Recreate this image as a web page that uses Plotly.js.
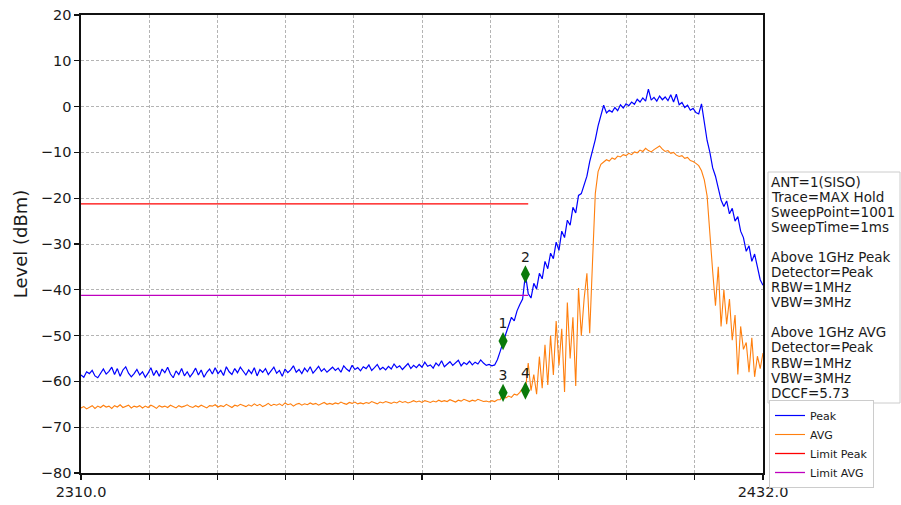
<!DOCTYPE html>
<html>
<head>
<meta charset="utf-8">
<script src="https://cdn.plot.ly/plotly-3.0.1.min.js"></script>
<style>
  html, body { margin: 0; padding: 0; background: #ffffff; }
  #chart { width: 901px; height: 505px; }
</style>
</head>
<body>
<div id="chart"></div>
<script>
// ---------------- DATA ----------------
const freqStart = 2310.0;   // MHz
const freqStop = 2432.0;    // MHz
const freqStep = 0.5;       // MHz between plotted sweep points

// Peak detector trace (dBm), one value per freqStep from 2310 to 2432 MHz
const peakLevel = [
  -58.6,-59.1,-57.9,-58.3,-57.6,-58.8,-59.2,-58.1,-57.3,-58.4,
  -57.8,-56.9,-58.5,-57.2,-58.9,-57.5,-56.8,-58.2,-59.0,-58.3,
  -57.4,-58.6,-57.9,-59.1,-58.2,-57.0,-58.7,-57.6,-58.9,-57.3,
  -58.1,-56.9,-58.4,-59.2,-57.7,-58.5,-57.2,-58.8,-57.9,-59.0,
  -58.2,-57.1,-58.6,-57.5,-59.1,-58.0,-57.3,-58.4,-57.0,-58.3,
  -57.6,-58.7,-56.8,-57.9,-58.5,-57.2,-58.1,-56.9,-57.8,-58.6,
  -57.5,-58.3,-57.0,-58.8,-57.4,-58.0,-57.2,-58.5,-57.7,-56.9,
  -58.2,-57.6,-58.9,-57.3,-58.1,-57.5,-56.6,-58.0,-57.4,-58.3,
  -57.1,-57.9,-56.8,-58.2,-57.5,-56.7,-57.8,-57.2,-58.0,-57.4,
  -56.9,-57.6,-57.1,-58.0,-56.6,-57.3,-57.8,-56.5,-57.4,-57.0,
  -57.7,-56.8,-57.2,-56.4,-57.6,-57.0,-56.3,-57.4,-56.9,-57.5,
  -56.7,-57.3,-56.2,-57.0,-56.6,-57.4,-56.8,-56.1,-57.2,-56.5,
  -57.0,-56.3,-56.9,-55.8,-56.7,-56.4,-57.1,-56.0,-56.6,-55.5,
  -56.8,-56.2,-55.7,-56.5,-56.0,-55.4,-56.6,-55.9,-56.3,-55.6,
  -56.4,-55.8,-56.2,-55.3,-56.0,-56.5,-56.3,-56.6,-56.4,-55.2,
  -53.4,-51.2,-49.6,-47.8,-46.0,-46.8,-44.6,-43.2,-42.0,-36.6,
  -40.8,-41.8,-38.6,-39.8,-36.4,-37.6,-33.8,-35.4,-32.0,-33.2,
  -29.6,-31.4,-27.2,-28.6,-24.8,-25.9,-22.0,-23.2,-19.4,-19.0,
  -16.8,-15.2,-12.0,-9.8,-7.2,-4.2,-2.2,0.3,-1.4,-0.8,
  -1.2,-0.2,-0.9,0.4,-0.3,0.6,0.2,1.0,0.5,1.6,
  1.0,1.9,1.2,3.8,1.4,2.0,1.2,2.3,1.5,2.1,
  1.3,2.6,1.0,2.7,0.4,0.9,-0.2,0.3,-0.8,-0.4,
  -1.3,-1.6,0.6,-3.6,-7.4,-10.0,-13.4,-15.2,-18.0,-20.4,
  -21.8,-20.6,-23.4,-22.2,-25.0,-24.0,-27.2,-28.6,-31.6,-30.4,
  -33.8,-32.2,-35.0,-37.8,-39.0
];

// AVG trace (dBm), same frequency grid
const avgLevel = [
  -65.8,-65.5,-66.0,-65.6,-65.3,-65.9,-65.4,-65.7,-65.2,-65.6,
  -65.4,-65.9,-65.3,-65.6,-65.1,-65.7,-65.5,-65.2,-65.8,-65.4,
  -65.6,-65.3,-65.8,-65.4,-65.7,-65.2,-65.5,-65.9,-65.3,-65.6,
  -65.4,-65.7,-65.2,-65.5,-65.8,-65.3,-65.6,-65.4,-65.1,-65.5,
  -65.7,-65.3,-65.6,-65.2,-65.5,-65.8,-65.3,-65.4,-65.1,-65.6,
  -65.3,-65.5,-65.0,-65.4,-65.7,-65.2,-65.4,-65.0,-65.3,-65.5,
  -65.1,-65.4,-64.9,-65.3,-65.0,-65.5,-65.2,-64.8,-65.3,-65.0,
  -65.2,-64.9,-65.3,-64.7,-65.1,-64.9,-65.4,-65.0,-64.8,-65.2,
  -64.9,-65.1,-64.7,-65.0,-64.8,-65.2,-64.9,-64.6,-65.0,-64.8,
  -65.0,-64.7,-64.9,-64.5,-64.8,-65.0,-64.6,-64.8,-64.5,-64.9,
  -64.7,-64.9,-64.6,-64.8,-64.4,-64.7,-64.9,-64.5,-64.7,-64.4,
  -64.6,-64.8,-64.5,-64.7,-64.3,-64.6,-64.4,-64.7,-64.5,-64.2,
  -64.5,-64.3,-64.6,-64.2,-64.4,-64.6,-64.3,-64.5,-64.1,-64.4,
  -64.2,-64.4,-64.0,-64.3,-64.5,-64.1,-64.3,-63.9,-64.2,-64.4,
  -64.1,-64.3,-63.9,-64.2,-64.4,-64.3,-64.5,-64.2,-64.4,-64.0,
  -64.0,-62.5,-63.6,-63.2,-63.5,-62.8,-63.0,-62.4,-61.5,-62.0,
  -56.0,-62.0,-58.5,-62.8,-54.6,-61.5,-52.0,-60.8,-50.0,-58.6,
  -46.8,-56.5,-48.5,-62.3,-42.8,-55.0,-46.0,-61.0,-39.6,-50.0,
  -42.0,-36.4,-49.5,-34.0,-19.0,-14.2,-12.6,-12.1,-11.6,-11.9,
  -11.2,-11.5,-10.8,-11.0,-10.5,-10.7,-10.2,-10.5,-9.9,-10.1,
  -9.5,-9.8,-9.1,-9.6,-9.9,-9.4,-9.0,-8.6,-9.3,-9.8,
  -9.6,-10.2,-10.0,-10.6,-10.9,-10.7,-11.3,-11.1,-11.8,-12.0,
  -12.4,-12.9,-14.0,-16.0,-19.5,-28.5,-36.0,-43.5,-35.0,-48.0,
  -40.0,-47.5,-42.0,-51.0,-45.5,-58.5,-48.0,-53.0,-51.5,-58.0,
  -50.5,-59.0,-54.5,-57.2,-53.8
];

// Limit lines
const limitFreq = [2310.0, 2390.0];
const limitPeakLevel = [-21.23, -21.23];
const limitAvgLevel = [-41.23, -41.23];

// Markers
const markerFreq = [2385.5, 2389.5, 2385.5, 2389.5];
const markerLevel = [-51.2, -36.6, -62.5, -62.0];
const markerLabel = ['1', '2', '3', '4'];

// Axis ticks
const xTickVals = [2310.0, 2322.2, 2334.4, 2346.6, 2358.8, 2371.0, 2383.2, 2395.4, 2407.6, 2419.8, 2432.0];
const xTickText = ['2310.0', '', '', '', '', '', '', '', '', '', '2432.0'];
const yRange = [-80, 20];

// Info box text lines
const infoLines = [
  'ANT=1(SISO)', 'Trace=MAX Hold', 'SweepPoint=1001', 'SweepTime=1ms', '',
  'Above 1GHz Peak', 'Detector=Peak', 'RBW=1MHz', 'VBW=3MHz', '',
  'Above 1GHz AVG', 'Detector=Peak', 'RBW=1MHz', 'VBW=3MHz', 'DCCF=5.73'
];

// ---------------- LAYOUT ----------------
const FONT = 'DejaVu Sans, Liberation Sans, sans-serif';
const M = {l: 81, r: 138, t: 15, b: 32};
const PW = 901 - M.l - M.r, PH = 505 - M.t - M.b;
const px2x = px => (px - M.l) / PW;
const py2y = py => (505 - M.b - py) / PH;

const traces = [
  {
    name: 'Peak', type: 'scatter', mode: 'lines',
    x0: freqStart, dx: freqStep, y: peakLevel,
    line: {color: '#0000ff', width: 1.2}
  },
  {
    name: 'AVG', type: 'scatter', mode: 'lines',
    x0: freqStart, dx: freqStep, y: avgLevel,
    line: {color: '#ff7f0e', width: 1.1}
  },
  {
    name: 'Limit Peak', type: 'scatter', mode: 'lines',
    x: limitFreq, y: limitPeakLevel,
    line: {color: '#ff0000', width: 1.3}
  },
  {
    name: 'Limit AVG', type: 'scatter', mode: 'lines',
    x: limitFreq, y: limitAvgLevel,
    line: {color: '#bf00bf', width: 1.3}
  },
  {
    name: 'Markers', type: 'scatter', mode: 'markers+text',
    x: markerFreq, y: markerLevel, text: markerLabel,
    textposition: 'top center',
    textfont: {family: FONT, size: 14, color: '#1a1a1a'},
    marker: {symbol: 'diamond-tall', size: 13, color: '#0a7a0a', line: {width: 0}},
    showlegend: false, cliponaxis: false
  }
];

const annotations = [];
const lineStart = 181.7, lineStep = 15.07;
infoLines.forEach((t, k) => {
  if (!t) return;
  annotations.push({
    xref: 'paper', yref: 'paper',
    x: px2x(769), y: py2y(lineStart + k * lineStep),
    xanchor: 'left', yanchor: 'middle',
    text: t, showarrow: false,
    font: {family: FONT, size: 13.5, color: '#1a1a1a'}
  });
});

const shapes = [
  {
    type: 'rect', xref: 'paper', yref: 'paper', layer: 'below',
    x0: px2x(768), x1: px2x(900), y0: py2y(403), y1: py2y(172),
    line: {color: '#cccccc', width: 1},
    fillcolor: 'rgba(255,255,255,0.8)'
  }
];

const layout = {
  width: 901, height: 505,
  margin: M,
  paper_bgcolor: '#ffffff', plot_bgcolor: '#ffffff',
  font: {family: FONT, color: '#1a1a1a'},
  showlegend: true,
  legend: {
    x: px2x(769), y: py2y(400), xanchor: 'left', yanchor: 'top',
    bgcolor: '#ffffff', bordercolor: '#cccccc', borderwidth: 1,
    font: {family: FONT, size: 11, color: '#1a1a1a'},
    itemwidth: 30, tracegroupgap: 0
  },
  xaxis: {
    range: [freqStart, freqStop],
    tickmode: 'array', tickvals: xTickVals, ticktext: xTickText,
    ticks: 'outside', ticklen: 5, tickwidth: 1.2, tickcolor: '#111111',
    tickfont: {family: FONT, size: 14.5, color: '#1a1a1a'},
    showgrid: true, gridcolor: '#b4b4b4', gridwidth: 1, griddash: '3px,2px',
    showline: true, mirror: true, linecolor: '#111111', linewidth: 1.7,
    zeroline: false
  },
  yaxis: {
    range: yRange, dtick: 10, tick0: 0,
    ticks: 'outside', ticklen: 5, tickwidth: 1.2, tickcolor: '#111111',
    tickfont: {family: FONT, size: 14.5, color: '#1a1a1a'},
    showgrid: true, gridcolor: '#b4b4b4', gridwidth: 1, griddash: '3px,2px',
    showline: true, mirror: true, linecolor: '#111111', linewidth: 1.7,
    zeroline: false,
    title: {text: 'Level (dBm)', font: {family: FONT, size: 18, color: '#1a1a1a'}, standoff: 8}
  },
  annotations: annotations,
  shapes: shapes
};

Plotly.newPlot('chart', traces, layout, {displayModeBar: false, staticPlot: true});
</script>
</body>
</html>
